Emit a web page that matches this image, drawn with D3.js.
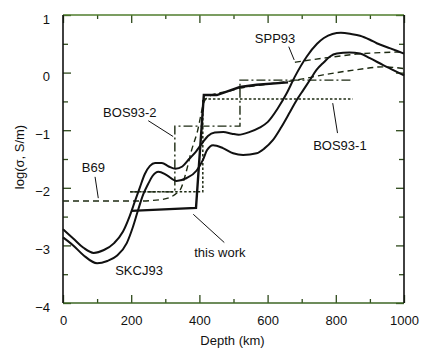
<!DOCTYPE html>
<html><head><meta charset="utf-8">
<script src="https://cdn.jsdelivr.net/npm/d3@7"></script>
<style>
body{margin:0;background:#fff}
svg{display:block}
text{font-family:"Liberation Sans",Arial,Helvetica,sans-serif;fill:#111}
</style>
</head><body><svg id="c" width="436" height="357"></svg>
<script>
// ---- data (depth km, log10 conductivity S/m) ----
const xTicks = [0, 200, 400, 600, 800, 1000];
const xMinor = [100, 300, 500, 700, 900];
const yTicks = [-4, -3, -2, -1, 0, 1];
const yMinor = [-3.5, -2.5, -1.5, -0.5, 0.5];

const skcj93Upper = [[0,-2.72],[30,-2.88],[60,-3.04],[90,-3.13],[120,-3.08],[150,-2.96],[176,-2.76],[195,-2.50],[210,-2.25],[225,-2.00],[240,-1.76],[255,-1.62],[270,-1.57],[290,-1.57],[310,-1.63],[330,-1.67],[350,-1.63],[370,-1.50],[390,-1.37],[410,-1.21],[425,-1.10],[445,-1.04],[470,-1.03],[495,-1.06],[515,-1.08],[548,-1.03],[575,-0.96],[600,-0.86],[630,-0.62],[656,-0.36],[680,-0.07],[715,0.28],[745,0.50],[765,0.60],[790,0.67],[815,0.69],[845,0.67],[871,0.64],[900,0.57],[920,0.51],[960,0.42],[1000,0.33]];
const skcj93Lower = [[0,-2.86],[30,-3.00],[60,-3.17],[100,-3.31],[130,-3.27],[158,-3.18],[187,-2.96],[205,-2.68],[220,-2.39],[235,-2.12],[250,-1.93],[262,-1.80],[280,-1.72],[304,-1.78],[333,-1.88],[363,-1.83],[392,-1.70],[410,-1.52],[422,-1.35],[440,-1.26],[469,-1.31],[499,-1.40],[528,-1.43],[568,-1.40],[590,-1.32],[616,-1.17],[640,-0.95],[666,-0.68],[685,-0.48],[705,-0.30],[725,-0.12],[744,0.05],[765,0.18],[783,0.28],[803,0.33],[840,0.35],[871,0.33],[900,0.25],[939,0.13],[970,0.04],[1000,-0.05]];
const thisWork = [[200,-2.40],[390,-2.35],[413,-0.39],[451,-0.39],[480,-0.33],[519,-0.25],[568,-0.21],[660,-0.17]];
const b69 = [[0,-2.23],[220,-2.23],[293,-2.20],[343,-2.04],[360,-1.75],[377,-1.35],[393,-1.05],[416,-0.48],[440,-0.38],[480,-0.33],[520,-0.27],[600,-0.20],[685,-0.13],[763,-0.04],[861,0.05],[939,0.10],[1000,0.07]];
const spp93 = [[680,0.18],[763,0.25],[861,0.32],[1000,0.36]];
const bos93_1 = [[197,-2.07],[410,-2.07],[410,-0.46],[850,-0.46]];
const bos93_2 = [[197,-2.07],[328,-2.07],[328,-0.93],[519,-0.93],[519,-0.13],[850,-0.13]];

// ---- layout ----
const svg = d3.select("#c");
const m = {l:63, t:15, r:32, b:54};
const W = 436 - m.l - m.r, H = 357 - m.t - m.b;
const x = d3.scaleLinear().domain([0,1000]).range([m.l, m.l+W]);
const y = d3.scaleLinear().domain([-4,1]).range([m.t+H, m.t]);
const tickCol = "#2f4a1c";

const g = svg.append("g");

function styleAxis(sel){
  sel.select(".domain").remove();
  sel.selectAll("line").attr("stroke", tickCol).attr("stroke-width",1.3);
  sel.selectAll("text").style("font-size","13px").attr("fill","#111");
}
// major axes
g.append("g").attr("transform",`translate(0,${y(-4)})`)
  .call(d3.axisBottom(x).tickValues(xTicks).tickSize(-8).tickPadding(13).tickFormat(d3.format("d")))
  .call(styleAxis);
g.append("g").attr("transform",`translate(0,${y(1)})`)
  .call(d3.axisTop(x).tickValues(xTicks).tickSize(-8).tickFormat(""))
  .call(styleAxis);
g.append("g").attr("transform",`translate(${x(0)},0)`)
  .call(d3.axisLeft(y).tickValues(yTicks).tickSize(-8).tickPadding(13).tickFormat(d3.format("d")))
  .call(styleAxis)
  .call(s=>s.selectAll("text").attr("dy","0.62em"));
g.append("g").attr("transform",`translate(${x(1000)},0)`)
  .call(d3.axisRight(y).tickValues(yTicks).tickSize(-8).tickFormat(""))
  .call(styleAxis);
// minor
g.append("g").attr("transform",`translate(0,${y(-4)})`).call(d3.axisBottom(x).tickValues(xMinor).tickSize(-4).tickFormat("")).call(styleAxis);
g.append("g").attr("transform",`translate(0,${y(1)})`).call(d3.axisTop(x).tickValues(xMinor).tickSize(-4).tickFormat("")).call(styleAxis);
g.append("g").attr("transform",`translate(${x(0)},0)`).call(d3.axisLeft(y).tickValues(yMinor).tickSize(-5).tickFormat("")).call(styleAxis);
g.append("g").attr("transform",`translate(${x(1000)},0)`).call(d3.axisRight(y).tickValues(yMinor).tickSize(-5).tickFormat("")).call(styleAxis);

// frame
g.append("line").attr("x1",x(0)).attr("x2",x(1000)).attr("y1",y(1)).attr("y2",y(1)).attr("stroke","#4f7d2c").attr("stroke-width",1.6);
g.append("line").attr("x1",x(0)).attr("x2",x(1000)).attr("y1",y(-4)).attr("y2",y(-4)).attr("stroke","#3d6624").attr("stroke-width",1.6);
g.append("line").attr("x1",x(0)).attr("x2",x(0)).attr("y1",y(1)).attr("y2",y(-4)).attr("stroke","#111").attr("stroke-width",1.6);
g.append("line").attr("x1",x(1000)).attr("x2",x(1000)).attr("y1",y(1)).attr("y2",y(-4)).attr("stroke","#111").attr("stroke-width",1.6);

// series
const lineSmooth = d3.line().x(d=>x(d[0])).y(d=>y(d[1])).curve(d3.curveMonotoneX);
const lineStep = d3.line().x(d=>x(d[0])).y(d=>y(d[1]));
const dashCol = "#1d2a12";
g.append("path").datum(b69).attr("d",lineSmooth).attr("fill","none").attr("stroke",dashCol).attr("stroke-width",1.4).attr("stroke-dasharray","6,4");
g.append("path").datum(spp93).attr("d",lineSmooth).attr("fill","none").attr("stroke",dashCol).attr("stroke-width",1.4).attr("stroke-dasharray","6,4");
g.append("path").datum(bos93_1).attr("d",lineStep).attr("fill","none").attr("stroke",dashCol).attr("stroke-width",1.5).attr("stroke-dasharray","2.5,2");
g.append("path").datum(bos93_2).attr("d",lineStep).attr("fill","none").attr("stroke",dashCol).attr("stroke-width",1.4).attr("stroke-dasharray","9,3,2,3");
g.append("path").datum(skcj93Upper).attr("d",lineSmooth).attr("fill","none").attr("stroke","#111").attr("stroke-width",2);
g.append("path").datum(skcj93Lower).attr("d",lineSmooth).attr("fill","none").attr("stroke","#111").attr("stroke-width",2);
g.append("path").datum(thisWork).attr("d",lineStep).attr("fill","none").attr("stroke","#111").attr("stroke-width",2.4);

// annotations
function note(txt, tx, ty, l){
  g.append("text").attr("x",x(tx)).attr("y",y(ty)).attr("text-anchor","middle").style("font-size","13px").text(txt);
  if(l) g.append("line").attr("x1",x(l[0])).attr("y1",y(l[1])).attr("x2",x(l[2])).attr("y2",y(l[3])).attr("stroke","#111").attr("stroke-width",1);
}
note("SPP93", 622, 0.51, [662,0.45,678,0.22]);
note("BOS93-2", 196, -0.77, [250,-0.835,323,-1.11]);
note("B69", 89, -1.73, [94,-1.81,103.5,-2.18]);
note("SKCJ93", 223, -3.51);
note("this work", 460, -3.20, [382,-2.46,473,-2.95]);
note("BOS93-1", 812, -1.34, [791,-0.53,805,-1.05]);

// axis titles
svg.append("text").attr("x",x(500)-1).attr("y",345).attr("text-anchor","middle").style("font-size","13px").text("Depth (km)");
svg.append("text").attr("transform","translate(24,157) rotate(-90)").attr("text-anchor","middle").style("font-size","13px").text("log(σ, S/m)");
</script></body></html>
